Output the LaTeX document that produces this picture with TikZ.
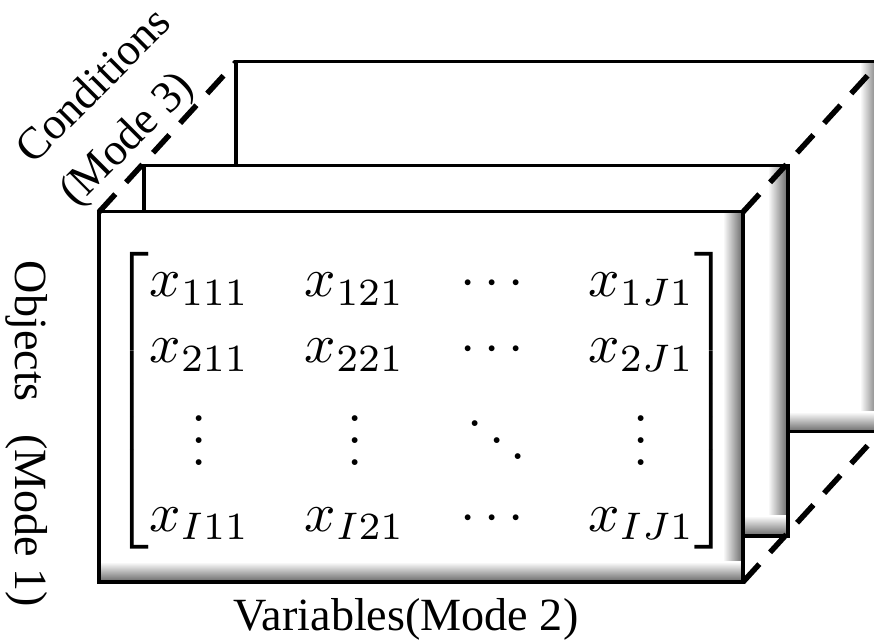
\documentclass[tikz,border=0pt]{standalone}
\usepackage{amsmath}
\usepackage[no-math]{fontspec}
\newfontfamily\labelfont{Liberation Serif}

\begin{document}
\begin{tikzpicture}[x=0.182pt, y=-0.182pt,
    slab/.style={fill=white},
    rim/.style={line width=0.55pt},
    rshade/.style={left color=white, right color=black!60},
    bshade/.style={top color=white, bottom color=black!60},
    axis/.style={line width=1pt, dash pattern=on 4.4pt off 2.9pt},
    lbl/.style={font=\labelfont\fontsize{8.4}{10.2}\selectfont, align=center}]
    % Frame
    \useasboundingbox (0,0) rectangle (874,643);
    \clip (0,0) rectangle (874,643);

    % Slices, back to front
    \foreach \dx/\dy/\s in {137/-150/back, 45/-46/mid, 0/0/front} {
        \coordinate (\s-tl) at (99+\dx,212+\dy);
        \coordinate (\s-tr) at (743+\dx,212+\dy);
        \coordinate (\s-br) at (743+\dx,582+\dy);
        \fill[slab] (\s-tl) rectangle (\s-br);
        \shade[rshade] (723+\dx,212+\dy) rectangle (\s-br);
        \shade[bshade] (99+\dx,562+\dy) rectangle (\s-br);
        \draw[rim] (\s-tl) rectangle (\s-br);
    }

    % Depth edges
    \draw[axis] (front-tl) -- (back-tl);
    \draw[axis] (front-tr) -- (back-tr);
    \draw[axis] (front-br) -- (back-br);

    % Front slice entries
    \node (tensor) at (422,401) {$\begin{bmatrix}
        x_{111} & x_{121} & \cdots & x_{1J1}\\
        x_{211} & x_{221} & \cdots & x_{2J1}\\
        \vdots & \vdots & \ddots & \vdots\\
        x_{I11} & x_{I21} & \cdots & x_{IJ1}
    \end{bmatrix}$};

    % Mode labels
    \node[lbl, rotate=45, align=left, font=\labelfont\fontsize{8.2}{11}\selectfont] (modethree) at (117,109) {Conditions\\(Mode 3)};
    \node[lbl, rotate=-90] (modeone) at (27,434) {Objects\hspace{0.7em}(Mode 1)};
    \node[lbl] (modetwo) at (406,619) {Variables(Mode 2)};
\end{tikzpicture}
\end{document}
